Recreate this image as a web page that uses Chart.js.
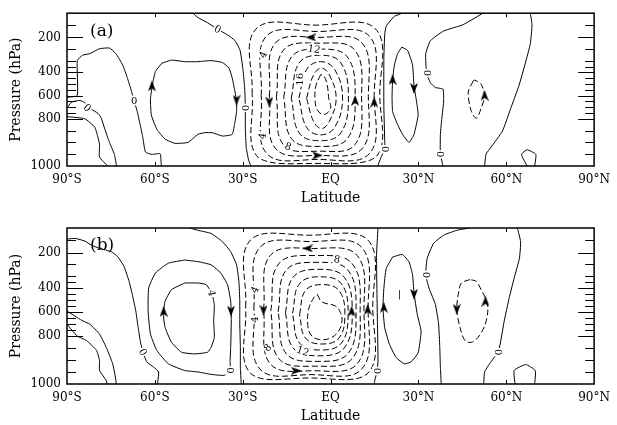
<!DOCTYPE html>
<html>
<head>
<meta charset="utf-8">
<script src="https://cdn.jsdelivr.net/npm/chart.js@4.4.0/dist/chart.umd.min.js"></script>
<style>
  html, body { margin: 0; padding: 0; background: #fff; }
  #wrap { position: relative; width: 617px; height: 425px; }
  .panel { position: absolute; left: 0; width: 617px; }
  #panelA { top: 0; height: 212px; }
  #panelB { top: 212px; height: 213px; }
</style>
</head>
<body>
<div id="wrap">
  <div class="panel" id="panelA"><canvas id="chartA"></canvas></div>
  <div class="panel" id="panelB"><canvas id="chartB"></canvas></div>
</div>
<script>
// ---- axes ----
const LAT_TICKS = [-90, -60, -30, 0, 30, 60, 90];
const LAT_LABELS = ['90°S', '60°S', '30°S', 'EQ', '30°N', '60°N', '90°N'];
const P_MAJOR = [200, 400, 600, 800, 1000];
const P_MINOR = [130, 265, 333, 367, 450, 500, 550, 650, 700, 750, 850, 900, 950];

// ---- panel (a): contours as [latitude, hPa] ----
const A_SH_OUTER = [[-90,614],[-86.5,600],[-86.5,333],[-84.7,302],[-82.2,293],[-78.9,265],[-75.5,261],[-73.3,293],[-71.0,358],[-69.4,447],[-68.2,545],[-67.1,642],[-66.0,739],[-64.9,832],[-64.1,880],[-63.2,941],[-61.0,951],[-58.2,948],[-57.8,1000]];
const A_SH_LOW1 = [[-90,706],[-88.4,656],[-85.6,642],[-83.9,662],[-81.7,717],[-79.4,753],[-78.3,795],[-77.2,839],[-75.5,900],[-73.8,951],[-73.1,1000]];
const A_SH_LOW2 = [[-90,781],[-83.9,800],[-80.5,836],[-78.9,907],[-78.9,962],[-76.1,1000]];
const A_SH_CELL = [[-57.6,348],[-54.3,330],[-49.8,339],[-45.3,339],[-40.8,333],[-36.9,344],[-34.7,376],[-33.6,447],[-32.8,545],[-32.1,642],[-32.1,739],[-32.8,825],[-33.6,866],[-36.9,873],[-40.3,859],[-43.1,859],[-45.3,866],[-48.7,900],[-53.1,904],[-56.5,886],[-59.3,845],[-61.2,767],[-61.5,628],[-60.7,489],[-59.8,395],[-57.6,348]];
const A_SH_ZERO = [[-47,60],[-45.3,85],[-41.9,116],[-38.6,153],[-35.2,185],[-32.6,219],[-30.9,274],[-29.9,386],[-29.3,545],[-29.1,706],[-29.1,839],[-28.8,921],[-28.0,975],[-27.2,1000]];
const A_EQ_ZERO = [[24.5,60],[21.8,78],[20.7,98],[19.0,135],[18.5,181],[18.2,321],[18.2,697],[18.5,893],[18.5,927],[17.1,967],[16.1,1000]];
const A_NH_CELL = [[24.3,256],[26.3,274],[28.0,358],[28.5,517],[29.4,656],[29.9,767],[28.5,866],[26.8,900],[24.6,866],[22.9,825],[21.2,739],[21.0,614],[21.2,462],[21.8,358],[22.9,293],[24.3,256]];
const A_NH_ZERO = [[52.0,60],[45.3,126],[38.6,163],[34.1,219],[32.5,293],[32.8,406],[34.1,489],[35.8,531],[38.4,545],[38.6,656],[38.0,795],[37.5,866],[37.5,950],[38.4,1000]];
const A_NH_FAR = [[68.2,60],[68.8,126],[68.2,237],[66.5,348],[64.3,517],[61.5,712],[58.7,852],[54.8,920],[53.1,950],[52.6,1000]];
const A_NH_BUMP = [[67.1,1000],[65.2,951],[67.1,931],[70.1,951],[69.7,1000]];
const A_NH_NEG = [[48.7,475],[47.0,572],[48.1,739],[49.8,795],[51.4,711],[52.6,600],[51.4,503],[49.2,467],[48.7,475]];
const A_NEG = [
  [[-26.8,589],[-25.5,152],[-5.0,129],[15.4,152],[16.8,589],[15.4,963],[-5.0,989],[-24.8,963],[-26.8,589]],
  [[-23.7,600],[-22.0,194],[-4.4,166],[13.3,194],[14.9,600],[13.3,947],[-4.4,972],[-21.8,947],[-23.7,600]],
  [[-20.9,606],[-18.9,233],[-4.0,200],[10.8,233],[12.9,606],[10.8,926],[-4.0,955],[-18.8,926],[-20.9,606]],
  [[-18.5,614],[-16.1,273],[-3.9,233],[8.3,273],[10.6,614],[8.3,910],[-3.9,937],[-16.1,910],[-18.5,614]],
  [[-16.0,618],[-13.3,311],[-3.8,267],[5.7,311],[8.4,618],[5.7,885],[-3.8,917],[-13.3,885],[-16.0,618]],
  [[-13.4,622],[-10.7,346],[-3.6,302],[3.5,346],[6.1,622],[3.5,860],[-3.6,893],[-10.7,860],[-13.4,622]],
  [[-10.8,622],[-8.2,384],[-3.4,339],[1.4,384],[4.1,622],[1.4,836],[-3.4,868],[-8.2,836],[-10.8,622]],
  [[-8.2,622],[-5.8,423],[-3.1,376],[-0.4,423],[1.9,622],[-0.4,811],[-3.1,841],[-5.8,811],[-8.2,622]],
  [[-3.4,420],[-5.0,517],[-5.3,628],[-4.5,725],[-2.2,762],[0,711],[-0.6,628],[-1.1,517],[-2.2,433],[-3.4,420]]
];
// arrows: [lat, hPa, direction deg clockwise from east]
const A_ARROWS = [[-61.0,517,270],[-32.1,640,90],[-6.7,200,180],[-20.9,656,90],[8.4,642,270],[14.9,656,270],[-4.5,955,0],[21.2,462,270],[28.5,539,90],[52.6,598,270]];
const A_LABELS = [[-67.1,642,'0'],[-83.1,706,'0'],[-38.6,153,'0'],[-29.1,706,'0'],[18.5,929,'0'],[32.8,406,'0'],[37.5,950,'0'],[-23.0,300,'4'],[-23.2,873,'4'],[-5.6,268,'12'],[-10.3,460,'16'],[-14.5,918,'8']];

// ---- panel (b) ----
const B_SH_ZERO_W = [[-90,123],[-87.2,119],[-83.9,134],[-81.7,157],[-78.9,175],[-74.9,194],[-72.7,222],[-70.5,278],[-68.8,361],[-67.7,452],[-66.5,592],[-65.7,730],[-64.9,827],[-64.1,868],[-62.7,909],[-60.4,930],[-58.7,950],[-59.0,991],[-59.0,1000]];
const B_SH_LOW1 = [[-90,592],[-85,669],[-82.2,702],[-78.9,786],[-76.6,848],[-74.4,916],[-73.3,985],[-73.2,1000]];
const B_SH_LOW2 = [[-90,702],[-86.6,800],[-83.3,820],[-79.9,861],[-78.9,903],[-78.9,944],[-76.6,985],[-76.3,1000]];
const B_SH_OUTER = [[-49.8,241],[-45.3,250],[-40.8,268],[-37.5,314],[-35.2,379],[-34.1,508],[-33.9,675],[-34.1,848],[-34.3,903],[-34.3,944],[-36.3,964],[-40.8,960],[-45.3,950],[-49.8,944],[-55.4,916],[-59.3,861],[-61.5,786],[-62.3,592],[-62.1,398],[-59.8,314],[-55.4,259],[-49.8,241]];
const B_SH_CELL = [[-49.8,370],[-54.3,411],[-56.5,508],[-57.1,619],[-56.5,730],[-54.3,827],[-50.9,868],[-46.4,875],[-42.0,868],[-40.8,848],[-39.7,807],[-39.9,675],[-39.7,536],[-40.6,438],[-42.5,379],[-45.3,370],[-49.8,370]];
const B_SH_ZERO = [[-48.1,60],[-45.3,73],[-40.8,91],[-36.9,138],[-34.1,194],[-32.1,268],[-31.3,361],[-31.0,508],[-31.0,702],[-30.8,848],[-30.8,930],[-30.5,1000]];
const B_EQ_ZERO = [[16.2,60],[15.7,214],[16.0,678],[16.2,904],[15.9,946],[15.1,986],[14.9,1000]];
const B_NH_CELL = [[21.2,224],[19.0,289],[18.2,400],[17.9,567],[18.5,733],[20.1,835],[22.4,890],[25.2,916],[27.5,908],[29.9,871],[30.9,761],[29.6,619],[28.5,438],[28.0,324],[26.8,252],[24.5,210],[21.2,224]];
const B_NH_ZERO = [[47.6,60],[43.1,73],[38.6,101],[35.2,147],[33.0,231],[32.5,324],[33.6,398],[35.8,536],[36.9,702],[37.3,848],[37.5,930],[37.8,1000]];
const B_NH_FAR = [[63.8,60],[64.9,138],[64.5,231],[62.7,342],[61.0,480],[59.3,675],[57.4,861],[54.3,916],[52.6,950],[52.3,1000]];
const B_NH_BUMP = [[63.0,1000],[62.7,944],[66.6,919],[69.9,944],[69.7,1000]];
const B_NH_NEG = [[47.6,351],[44.7,370],[43.6,452],[43.1,577],[44.2,730],[45.9,820],[48.1,827],[50.3,807],[52.6,717],[53.7,592],[53.1,494],[51.4,411],[49.8,361],[47.6,351]];
const B_NEG = [
  [[-29.0,555],[-27.4,129],[-7.3,101],[12.8,129],[14.4,555],[12.8,955],[-7.3,975],[-27.4,955],[-29.0,555]],
  [[-26.2,567],[-24.2,171],[-6.7,137],[10.7,171],[12.8,567],[10.7,937],[-6.7,961],[-24.2,937],[-26.2,567]],
  [[-22.9,580],[-20.6,216],[-5.8,176],[9.1,216],[11.4,580],[9.1,916],[-5.8,945],[-20.6,916],[-22.9,580]],
  [[-20.4,590],[-17.7,262],[-5.2,216],[7.4,262],[10.1,590],[7.4,894],[-5.2,926],[-17.7,894],[-20.4,590]],
  [[-17.9,598],[-15.2,299],[-4.6,254],[6.0,299],[8.7,598],[6.0,873],[-4.6,906],[-15.2,873],[-17.9,598]],
  [[-15.4,605],[-12.8,338],[-4.0,293],[4.7,338],[7.4,605],[4.7,850],[-4.0,883],[-12.8,850],[-15.4,605]],
  [[-13.0,611],[-10.6,374],[-3.5,335],[3.7,374],[6.0,611],[3.7,830],[-3.5,859],[-10.6,830],[-13.0,611]],
  [[-10.6,620],[-8.6,419],[-2.9,379],[2.9,419],[4.9,620],[2.9,809],[-2.9,834],[-8.6,809],[-10.6,620]],
  [[-4.5,452],[-3.0,513],[1.7,550],[3.4,605],[3.9,675],[2.8,758],[0,809],[-3.9,815],[-6.7,792],[-7.8,702],[-7.5,578],[-6.1,494],[-5.0,458],[-4.5,452]]
];
const B_ARROWS = [[-57.0,595,270],[-34.0,592,90],[-7.8,176,180],[-22.9,586,90],[7.2,592,270],[12.7,578,270],[-11.7,945,0],[18.2,560,270],[28.5,450,90],[43.1,577,90],[52.9,509,270]];
const B_LABELS = [[-64.1,868,'0'],[-34.3,944,'0'],[15.9,946,'0'],[32.5,324,'0'],[57.2,868,'0'],[-25.8,413,'4'],[-26.0,662,'4'],[-21.5,850,'8'],[-9.5,864,'12'],[2.2,238,'8'],[-40.6,440,'4'],[23.5,445,'|']];

// ---- styling ----
const A_LABEL_ROT = [0, 40, 30, 90, 90, 90, 90, -65, -80, 10, -90, 20];
const B_LABEL_ROT = [60, 90, 90, 90, 90, -65, -90, -45, 20, 10, 80, 0];
const FONT = 'DejaVu Serif';

// vertical coordinate: piecewise stretch of the model's pressure axis
const KNOT_P = [60, 200, 400, 600, 800, 1000];
const KNOT_F = [0, 0.1585, 0.3868, 0.539, 0.6912, 1];
function interp(v, xs, ys) {
  let i = 1;
  while (i < xs.length - 1 && v > xs[i]) i++;
  const t = (v - xs[i - 1]) / (xs[i] - xs[i - 1]);
  return ys[i - 1] + t * (ys[i] - ys[i - 1]);
}
class PressureScale extends Chart.LinearScale {
  getPixelForValue(value) {
    return this.top + (this.bottom - this.top) * interp(value, KNOT_P, KNOT_F);
  }
  getValueForPixel(pixel) {
    return interp((pixel - this.top) / (this.bottom - this.top), KNOT_F, KNOT_P);
  }
}
PressureScale.id = 'pressure';
PressureScale.defaults = Chart.LinearScale.defaults;
Chart.register(PressureScale);

function arrowHead() {
  const c = document.createElement('canvas');
  c.width = 11; c.height = 8;
  const g = c.getContext('2d');
  g.fillStyle = '#000';
  g.beginPath();
  g.moveTo(11, 4); g.lineTo(0, 0); g.lineTo(3, 4); g.lineTo(0, 8);
  g.closePath(); g.fill();
  return c;
}
const ARROW = arrowHead();

const decor = {
  id: 'decor',
  afterDatasetsDraw(chart, args, opts) {
    const { ctx, chartArea: a, scales: { x, y } } = chart;
    ctx.save();
    // contour labels, with the line broken behind them
    ctx.font = '10px "' + FONT + '"';
    ctx.textAlign = 'center';
    ctx.textBaseline = 'middle';
    opts.labels.forEach((l, i) => {
      ctx.save();
      ctx.translate(x.getPixelForValue(l[0]), y.getPixelForValue(l[1]));
      ctx.rotate(opts.rot[i] * Math.PI / 180);
      const w = ctx.measureText(l[2]).width + 2;
      ctx.fillStyle = '#fff';
      ctx.fillRect(-w / 2, -5, w, 10);
      ctx.fillStyle = '#000';
      ctx.fillText(l[2], 0, 0.5);
      ctx.restore();
    });
    // inward ticks on all four sides
    ctx.strokeStyle = '#000';
    ctx.lineWidth = 1;
    ctx.beginPath();
    P_MAJOR.concat(P_MINOR).forEach(p => {
      if (p >= 1000) return;
      const py = Math.round(y.getPixelForValue(p)) + 0.5;
      const len = P_MAJOR.includes(p) ? 16 : 9;
      ctx.moveTo(a.left, py); ctx.lineTo(a.left + len, py);
      ctx.moveTo(a.right, py); ctx.lineTo(a.right - len, py);
    });
    LAT_TICKS.slice(1, -1).forEach(v => {
      const px = Math.round(x.getPixelForValue(v)) + 0.5;
      ctx.moveTo(px, a.top); ctx.lineTo(px, a.top + 4);
      ctx.moveTo(px, a.bottom); ctx.lineTo(px, a.bottom - 4);
    });
    ctx.stroke();
    ctx.lineWidth = 1.5;
    ctx.strokeRect(a.left, a.top, a.right - a.left, a.bottom - a.top);
    // panel tag
    ctx.font = '17px "' + FONT + '"';
    ctx.textAlign = 'left';
    ctx.fillStyle = '#000';
    ctx.fillText(opts.tag, a.left + 23, a.top + 18);
    ctx.restore();
  }
};

function lineSet(data, dashed, tension) {
  return {
    data: data,
    showLine: true,
    borderColor: '#000',
    borderWidth: 1,
    borderDash: dashed ? [6, 3] : [],
    pointRadius: 0,
    tension: tension,
    fill: false
  };
}

function buildPanel(id, solid, dashedLoops, dashedOther, arrows, labels, rot, tag, layout) {
  const datasets = [];
  solid.forEach(s => datasets.push(lineSet(s, false, 0.15)));
  dashedLoops.forEach(s => datasets.push(lineSet(s, true, 0.4)));
  dashedOther.forEach(s => datasets.push(lineSet(s, true, 0.3)));
  datasets.push({
    data: arrows.map(r => [r[0], r[1]]),
    showLine: false,
    pointStyle: ARROW,
    pointRadius: 4,
    rotation: c => arrows[c.dataIndex][2]
  });

  return new Chart(document.getElementById(id), {
    type: 'scatter',
    data: { datasets },
    options: {
      responsive: true,
      maintainAspectRatio: false,
      devicePixelRatio: 1,
      animation: false,
      events: [],
      layout: { padding: { top: layout.top, right: 14, left: 0, bottom: 0 } },
      plugins: {
        legend: { display: false },
        tooltip: { enabled: false },
        decor: { labels, rot, tag }
      },
      scales: {
        x: {
          type: 'linear',
          min: -90, max: 90,
          grid: { display: false, drawTicks: false },
          border: { display: false },
          afterBuildTicks: s => { s.ticks = LAT_TICKS.map(v => ({ value: v })); },
          afterFit: s => { s.height = layout.xh; },
          ticks: {
            autoSkip: false, maxRotation: 0, padding: 7, color: '#000',
            font: { family: FONT, size: 12 },
            callback: v => LAT_LABELS[LAT_TICKS.indexOf(v)]
          },
          title: {
            display: true, text: 'Latitude', color: '#000',
            font: { family: FONT, size: 14 },
            padding: { top: 0, bottom: layout.tb }
          }
        },
        y: {
          type: 'pressure',
          min: 60, max: 1000,
          grid: { display: false, drawTicks: false },
          border: { display: false },
          afterBuildTicks: s => { s.ticks = P_MAJOR.map(v => ({ value: v })); },
          afterFit: s => { s.width = 67; },
          ticks: {
            autoSkip: false, padding: 6, color: '#000',
            font: { family: FONT, size: 12 },
            callback: v => String(v)
          },
          title: {
            display: true, text: 'Pressure (hPa)', color: '#000',
            font: { family: FONT, size: 14 },
            padding: { top: 8, bottom: 0 }
          }
        }
      }
    },
    plugins: [decor]
  });
}

buildPanel('chartA',
  [A_SH_OUTER, A_SH_LOW1, A_SH_LOW2, A_SH_CELL, A_SH_ZERO, A_EQ_ZERO, A_NH_CELL, A_NH_ZERO, A_NH_FAR, A_NH_BUMP],
  A_NEG, [A_NH_NEG], A_ARROWS, A_LABELS, A_LABEL_ROT, '(a)',
  { top: 8, xh: 46, tb: 5 });

buildPanel('chartB',
  [B_SH_ZERO_W, B_SH_LOW1, B_SH_LOW2, B_SH_OUTER, B_SH_CELL, B_SH_ZERO, B_EQ_ZERO, B_NH_CELL, B_NH_ZERO, B_NH_FAR, B_NH_BUMP],
  B_NEG, [B_NH_NEG], B_ARROWS, B_LABELS, B_LABEL_ROT, '(b)',
  { top: 16, xh: 41, tb: 0 });
</script>
</body>
</html>
